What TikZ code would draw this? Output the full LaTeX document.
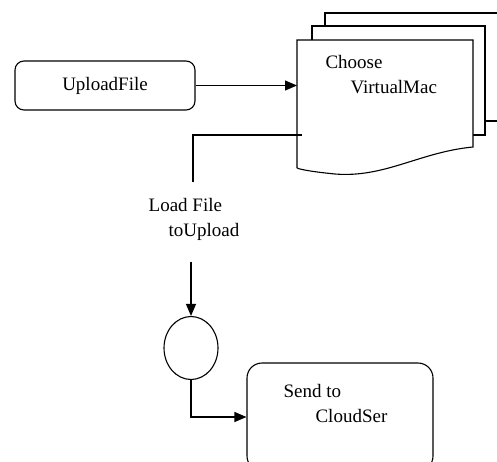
\documentclass[tikz,border=0pt]{standalone}
\usepackage{fontspec}
\setmainfont{Liberation Serif}
\usetikzlibrary{arrows.meta,shapes.geometric}
\begin{document}
\begin{tikzpicture}[x=1pt, y=-1pt, line width=1.1pt,
  txt/.style={font=\fontsize{19}{25}\selectfont, align=left, inner sep=0},
  box/.style={draw, rounded corners=9pt, txt},
  arr/.style={-{Triangle[length=12pt,width=10pt]}}]
\useasboundingbox (0,0) rectangle (497,461);

\node[box, minimum width=180, minimum height=49] (upload) at (105,85.5) {UploadFile};

% stack of pages, back to front
\draw[fill=white] (325,13) rectangle (530,121);
\draw[fill=white] (312,26) rectangle (485,135);
\node[inner sep=0, minimum width=176, minimum height=128, anchor=north west] (page) at (297,40) {};
\draw[fill=white] (297,168) -- (297,40) -- (473,40) -- (473,147)
  .. controls (420,152) and (385,178) .. (335,174)
  .. controls (315,172) and (302,170) .. (297,168);
\node[txt, anchor=north west] (choose) at (325,55) {Choose\\\hspace{25pt}VirtualMac};

\draw[arr] (upload) -- (upload -| page.west);

\coordinate (tap) at (302,135);
\coordinate (drop) at (193,182);
\draw (tap) -| (drop);

\node[txt] (load) at (194,219) {Load File\\\hspace{20pt}toUpload};
\node[draw, ellipse, minimum width=54, minimum height=63, inner sep=0] (join) at (191,348) {};
\node[draw, rounded corners=15pt, minimum width=186, minimum height=108, inner sep=0] (send) at (340,417) {};
\node[txt, anchor=north west] (sendtxt) at (283,384) {Send to\\\hspace{32pt}CloudSer};

\draw[arr, shorten <=21pt] (load.south -| join) -- (join);
\draw[arr] (join) |- (send);
\end{tikzpicture}
\end{document}
